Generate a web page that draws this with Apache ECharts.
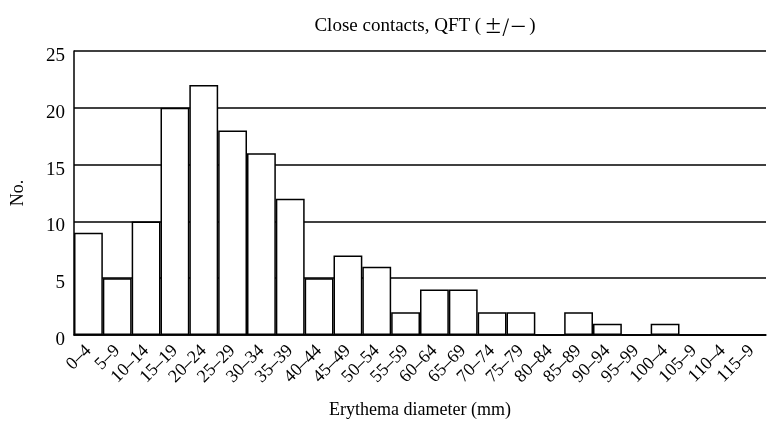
<!DOCTYPE html>
<html>
<head>
<meta charset="utf-8">
<script src="https://cdn.jsdelivr.net/npm/echarts@6/dist/echarts.min.js"></script>
<style>html,body{margin:0;padding:0;background:#fff}#c{width:768px;height:424px}</style>
</head>
<body>
<div id="c"></div>
<script>
const categories = ["0–4","5–9","10–14","15–19","20–24","25–29","30–34","35–39","40–44","45–49","50–54","55–59","60–64","65–69","70–74","75–79","80–84","85–89","90–94","95–99","100–4","105–9","110–4","115–9"];
const counts = [9,5,10,20,22,18,16,12,5,7,6,2,4,4,2,2,0,2,1,0,1,0,0,0];
const yTicks = [0,5,10,15,20,25];

const font = '"Liberation Serif","DejaVu Serif",serif';
const chart = echarts.init(document.getElementById('c'));
chart.setOption({
  animation: false,
  backgroundColor: '#fff',
  title: {
    text: '{a|Close contacts, QFT (}{b|±/－}{a|)}',
    left: 420, top: 12, textAlign: 'center',
    textStyle: {
      fontWeight: 'normal',
      rich: {
        a: {fontFamily: font, fontSize: 19, fontWeight: 'normal', color: '#000'},
        b: {fontFamily: '"Noto Sans CJK JP"', fontSize: 18, fontWeight: 'normal', color: '#000', padding: [0, 2, 0, 3]}
      }
    }
  },
  grid: {left: 74, right: 2, top: 51, bottom: 89, outerBoundsMode: 'none', containLabel: false},
  xAxis: {
    type: 'category',
    data: categories,
    name: 'Erythema diameter (mm)',
    nameLocation: 'middle',
    nameGap: 66,
    nameTextStyle: {fontFamily: font, fontSize: 18, color: '#000'},
    axisLine: {show: true, lineStyle: {color: '#000', width: 1.5}},
    axisTick: {show: false},
    axisLabel: {rotate: 45, interval: 0, fontFamily: font, fontSize: 18, color: '#000', margin: 13}
  },
  yAxis: {
    type: 'value',
    min: yTicks[0], max: yTicks[yTicks.length-1], interval: 5,
    name: 'No.',
    nameLocation: 'middle',
    nameGap: 47,
    nameTextStyle: {fontFamily: font, fontSize: 18, color: '#000'},
    axisLine: {show: true, lineStyle: {color: '#000', width: 1.5}},
    axisTick: {show: false},
    axisLabel: {fontFamily: font, fontSize: 19, color: '#000', margin: 9, verticalAlign: 'top', lineHeight: 10},
    splitLine: {show: true, lineStyle: {color: '#000', width: 1.5}}
  },
  series: [{
    type: 'bar',
    data: counts,
    barWidth: '100%',
    barGap: '0%',
    itemStyle: {color: '#fff', borderColor: '#000', borderWidth: 1.5}
  }]
});
</script>
</body>
</html>
